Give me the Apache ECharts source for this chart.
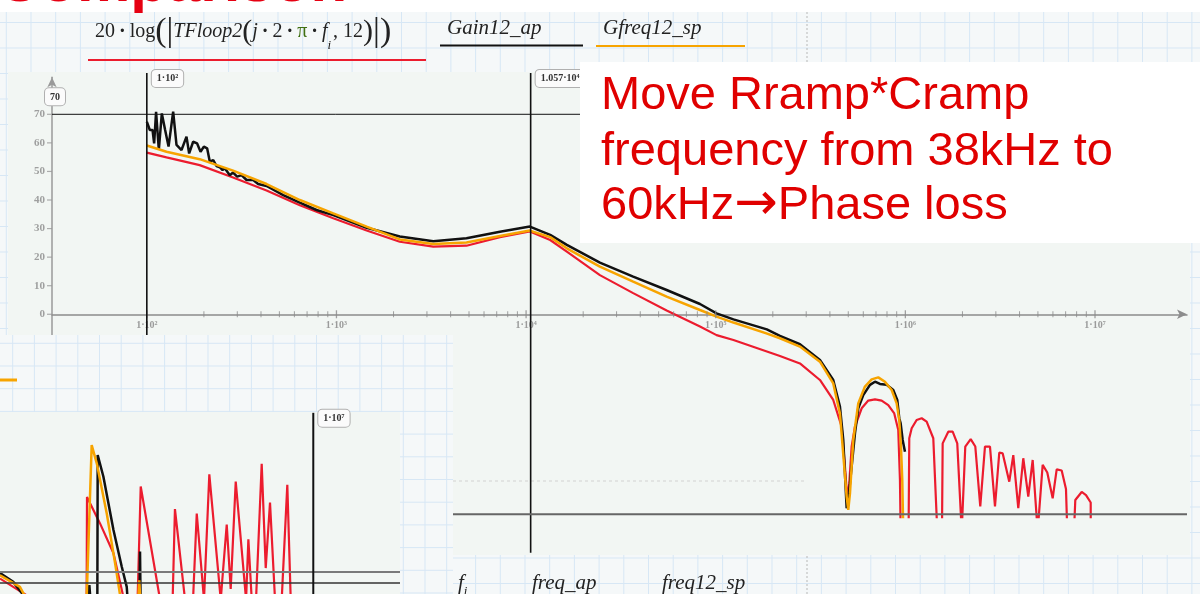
<!DOCTYPE html>
<html>
<head>
<meta charset="utf-8">
<title>Loop gain comparison</title>
<script src="https://cdn.jsdelivr.net/npm/echarts@6/dist/echarts.min.js"></script>
<style>
  html, body { margin: 0; padding: 0; background: #f5f8f9; }
  #chart { width: 1200px; height: 594px; }
</style>
</head>
<body>
<div id="chart"></div>
<script>
// ---- Gain traces: [frequency (Hz), gain (dB)] ----
// 20·log(|TFloop2(j·2·π·f_i, 12)|)
const tfloopTrace = [
  [100,56.6],[127,54.9],[190,52.2],[285,47.9],[428,43.3],[641,38.2],[962,33.6],[1443,29.3],[2158,25.4],
  [3240,23.7],[4850,24.0],[7280,27.0],[10470,29.0],[13400,26.0],[16400,21.9],[24500,13.7],[36700,7.4],
  [55100,1.3],[82600,-4.3],[101000,-7.3],[124000,-9.0],[218100,-14.6],[278000,-17.2],[354400,-23.0],
  [416600,-30.0],[461400,-39.3],[480300,-53.3],[490300,-61.5],[496300,-63.8],[506000,-59.2],[521000,-46.3],
  [542300,-39.3],[588300,-32.9],[637400,-30.2],[691500,-29.8],[749900,-30.2],[812500,-31.8],[873900,-34.7],
  [917400,-40.5],[936400,-58.0],[944400,-76],[1040000,-76],[1048600,-43.4],[1079700,-39.9],[1146800,-37.0],
  [1219000,-36.4],[1295000,-37.6],[1403600,-43.4],[1473500,-76],[1560000,-76],[1573000,-45.2],[1684000,-41.1],
  [1776000,-41.1],[1878000,-45.2],[1982000,-76],[2070000,-46.3],[2211000,-43.7],[2338000,-46.3],[2483000,-67.3],
  [2629000,-46.3],[2794000,-46.3],[2969000,-67.3],[3128000,-48.4],[3261000,-48.7],[3532000,-58.6],[3708000,-49.3],
  [3940000,-67.9],[4186000,-50.4],[4448000,-63.8],[4692000,-51.0],[4985000,-76],[5297000,-52.7],[5602000,-55.4],
  [5982000,-64.4],[6281000,-54.3],[6673000,-54.7],[7031000,-61.2],[7143000,-76],[7749000,-76],[7873000,-65.0],
  [8508000,-62.2],[8965000,-63.3],[9491000,-65.9],[9500000,-76]
];
// Gain12_ap (measured, AP)
const gainApTrace = [
  [100,67.4],[103.7,64.5],[107.2,64.5],[109.3,59.8],[111.9,70.9],[115.7,57.5],[120.0,70.3],[124.9,64.5],
  [130.2,58.7],[133.4,58.7],[137.7,70.9],[143.4,59.3],[152.4,57.5],[161.9,62.2],[167.2,56.3],[175.5,60.4],
  [184.2,59.8],[192.0,56.9],[199.9,58.7],[208.0,58.1],[214.9,53.4],[224,54.0],[233,51.9],[243,51.4],
  [250.8,50.5],[257.8,51.1],[274,48.7],[285,49.6],[299.5,48.2],[315.9,48.7],[335.7,47.0],[364,47.0],
  [386.4,45.6],[428,44.9],[524,41.7],[641,39.1],[785,36.5],[962,34.7],[1443,30.3],[2158,27.2],[3240,25.6],
  [4850,26.6],[7280,28.9],[10470,30.7],[13400,27.8],[16400,24.3],[24500,18.1],[36700,13.2],[55100,8.5],
  [82600,3.6],[101000,0.3],[124000,-1.8],[186000,-5.3],[218100,-7.6],[278000,-10.5],[354400,-16.0],
  [416600,-23.0],[451900,-32.3],[470500,-44.0],[482000,-58.0],[490300,-67.9],[500000,-65.0],[521000,-53.3],
  [542300,-41.7],[564500,-32.9],[599800,-28.3],[650700,-24.7],[691500,-23.6],[734500,-24.4],[796700,-24.7],
  [863300,-26.5],[906400,-30.0],[928600,-36.4],[944400,-38.2],[967800,-44.0],[995200,-48.1]
];
// Gfreq12_sp (simulated, SP)
const gfreqSpTrace = [
  [100,59.1],[127,56.9],[190,54.3],[285,50.3],[428,45.6],[641,40.0],[962,35.3],[1443,30.7],[2158,26.2],
  [3240,24.6],[4850,25.1],[7280,27.4],[10470,29.3],[13400,27.0],[16400,23.1],[24500,16.7],[36700,11.4],
  [55100,6.2],[82600,1.5],[101000,-0.8],[124000,-2.9],[185000,-6.7],[218100,-8.4],[278000,-11.3],
  [354400,-16.6],[416600,-24.2],[451900,-34.7],[474600,-52.2],[490300,-63.8],[500000,-68.5],[510400,-62.7],
  [531300,-44.0],[564500,-31.2],[612300,-25.3],[664200,-22.8],[719600,-22.1],[780500,-23.6],[846700,-26.5],
  [899800,-31.2],[928600,-37.0],[948000,-46.3],[963100,-58.0],[974900,-76]
];

// ---- Close-up of the tail near -70 dB (lower-left view) ----
const zoomTfloopTrace = [
  [794300,-69.2],[1040000,-73],[1600000,-73],[1605000,-54.4],[1783000,-59.2],[1988000,-64.6],[2164000,-73],
  [2416000,-73],[2478000,-52.5],[2897000,-73],[3208000,-73],[3268000,-56.6],[3545000,-73],[3783000,-73],
  [3898000,-57.4],[4133000,-73],[4315000,-50.3],[4732000,-73],[4967000,-59.4],[5129000,-71.1],[5342000,-51.6],
  [5808000,-73],[5917000,-62.1],[6080000,-73],[6295000,-73],[6590000,-48.4],[6808000,-67.3],[7048000,-55.4],
  [7339000,-73],[7747000,-73],[8106000,-52.2],[8333000,-73]
];
const zoomGainApTrace = [
  [794300,-68.2],[884000,-69.8],[986000,-73],[1620000,-73],[1636000,-70.4],[1650000,-73],[1745000,-73],
  [1750000,-46.8],[1832000,-50.7],[1988000,-60.4],[2125000,-67.0],[2213000,-70.7],[2229000,-73],
  [2455000,-73],[2464000,-64.3],[2475000,-73]
];
const zoomGfreqSpTrace = [
  [794300,-68.6],[933000,-70.7],[986000,-73],[1600000,-73],[1667000,-45.0],[1737000,-48.3],[1883000,-57.4],
  [2014000,-66.4],[2109000,-73],[2430000,-73],[2449000,-69.5],[2470000,-73]
];

// ---- Axes, ticks and markers ----
const decadeTicks = [1e2, 1e3, 1e4, 1e5, 1e6, 1e7];
const decadeLabels = ['1·10²', '1·10³', '1·10⁴', '1·10⁵', '1·10⁶', '1·10⁷'];
const gainTicks = [0, 10, 20, 30, 40, 50, 60, 70];
const gainTickLabels = ['0', '10', '20', '30', '40', '50', '60', '70'];

const freqMarkers = [100, 10570];
const freqMarkerLabels = ['1·10²', '1.057·10⁴'];
const gainMarkers = [70, -70];
const gainMarkerLabels = ['70', '-70'];
const zoomFreqMarkers = [1e7];
const zoomFreqMarkerLabels = ['1·10⁷'];
const zoomGainMarkers = [-68, -70];

const FREQ_MIN = Math.pow(10, 1.5), FREQ_MAX = 3.056e7;
const GAIN_MIN = -71, GAIN_MAX = 83;
const MARK_TOP = 84.5, MARK_BOTTOM = -83.5;
const ZOOM_FMIN = Math.pow(10, 5.9), ZOOM_FMAX = Math.pow(10, 7.3045);
const ZOOM_GMIN = -72, ZOOM_GMAX = -39;

const RED = '#ec1c2e', BLACK = '#111111', ORANGE = '#f7a400';
const SHEET = '#f5f8f9', SHEET_LINE = '#d7e7f5', PANEL = '#f2f6f3';
const SERIF = '"Liberation Serif", "DejaVu Serif", serif';
const SANS = '"Liberation Sans", Arial, sans-serif';

const markerLabelStyle = {
  font: 'bold 10px ' + SERIF, fill: '#333', backgroundColor: '#fbfbfb',
  borderColor: '#b0b0b0', borderWidth: 1, borderRadius: 4, padding: [4, 5, 3, 5]
};

// minor ticks at 2..9 within each decade
const minorTicks = [];
for (let d = 0; d < decadeTicks.length - 1; d++) {
  for (let k = 2; k <= 9; k++) minorTicks.push(decadeTicks[d] * k);
}

function verticalMarkers(labels, yTop, yBottom, width) {
  return function (params, api) {
    const f = api.value(0);
    const p1 = api.coord([f, yTop]);
    const p2 = api.coord([f, yBottom]);
    return {
      type: 'group',
      children: [
        { type: 'line', shape: { x1: p1[0], y1: p1[1], x2: p2[0], y2: p2[1] },
          style: { stroke: BLACK, lineWidth: width } },
        { type: 'text', x: p1[0] + 5, y: p1[1] - 3,
          style: Object.assign({ text: labels[params.dataIndex], align: 'left', verticalAlign: 'top' }, markerLabelStyle) }
      ]
    };
  };
}

function horizontalMarkers(labels, fMin, fMax, styles) {
  return function (params, api) {
    const g = api.value(1);
    const p1 = api.coord([fMin, g]);
    const p2 = api.coord([fMax, g]);
    const st = styles[params.dataIndex];
    const children = [
      { type: 'line', shape: { x1: p1[0], y1: p1[1], x2: p2[0], y2: p2[1] },
        style: { stroke: st.color, lineWidth: st.width } }
    ];
    if (labels) {
      children.push({ type: 'text', x: p1[0] + 3, y: p1[1] - 9,
        style: Object.assign({ text: labels[params.dataIndex], align: 'center', verticalAlign: 'bottom' }, markerLabelStyle) });
    }
    return { type: 'group', children: children };
  };
}

// ---- Worksheet background: ruled grid, plot panels, headings ----
const graphics = [];
function ruled(x0, y0, x1, y1, sx, ox, sy, oy, z) {
  for (let x = ox; x <= x1; x += sx) {
    if (x >= x0) graphics.push({ type: 'line', z: z, silent: true,
      shape: { x1: x, y1: y0, x2: x, y2: y1 }, style: { stroke: SHEET_LINE, lineWidth: 1 } });
  }
  for (let y = oy; y <= y1; y += sy) {
    if (y >= y0) graphics.push({ type: 'line', z: z, silent: true,
      shape: { x1: x0, y1: y, x2: x1, y2: y }, style: { stroke: SHEET_LINE, lineWidth: 1 } });
  }
}
ruled(0, 0, 1200, 594, 24.7, 6.3, 25.5, 22.5, 0);

const DOT = '{d|\u2009·\u2009}';
graphics.push(
  { type: 'line', z: 0, shape: { x1: 807, y1: 0, x2: 807, y2: 594 },
    style: { stroke: '#b8b8b8', lineWidth: 1, lineDash: [2, 2] } },
  { type: 'rect', z: 1, shape: { x: 8, y: 72, width: 1182, height: 483 }, style: { fill: PANEL } },
  { type: 'rect', z: 1, shape: { x: 0, y: 0, width: 1200, height: 12 }, style: { fill: '#ffffff' } },
  { type: 'line', z: 2, shape: { x1: 453, y1: 481, x2: 807, y2: 481 },
    style: { stroke: '#d2d2d2', lineWidth: 1, lineDash: [3, 3] } },
  // trace legend
  { type: 'text', x: 95, y: 12, z: 5, style: {
      text: '{n|20}' + DOT + '{n|log}{bp|(}{bar||}{it|TFloop2}{mp|(}{it|j}' + DOT + '{n|2}' + DOT + '{pi|π}' + DOT +
            '{it|f}{sub|i}{n|, 12}{mp|)}{bar||}{bp|)}',
      verticalAlign: 'top', align: 'left',
      rich: {
        n: { font: '20px ' + SERIF, fill: '#222', lineHeight: 40 },
        d: { font: 'bold 20px ' + SERIF, fill: '#222', lineHeight: 40 },
        it: { font: 'italic 20px ' + SERIF, fill: '#222', lineHeight: 40 },
        pi: { font: '20px ' + SERIF, fill: '#3f6f12', lineHeight: 40 },
        bp: { font: '34px ' + SERIF, fill: '#222', lineHeight: 40 },
        mp: { font: '30px ' + SERIF, fill: '#222', lineHeight: 40 },
        bar: { font: '34px ' + SERIF, fill: '#222', lineHeight: 40 },
        sub: { font: 'italic 13px ' + SERIF, fill: '#222', lineHeight: 40, padding: [28, 2, 0, 0] }
      } } },
  { type: 'line', z: 5, shape: { x1: 88, y1: 60, x2: 426, y2: 60 }, style: { stroke: RED, lineWidth: 2 } },
  { type: 'text', x: 447, y: 28, z: 5, style: { text: 'Gain12_ap', font: 'italic 21px ' + SERIF, fill: '#222', verticalAlign: 'middle' } },
  { type: 'line', z: 5, shape: { x1: 440, y1: 45.5, x2: 583, y2: 45.5 }, style: { stroke: BLACK, lineWidth: 2 } },
  { type: 'text', x: 603, y: 28, z: 5, style: { text: 'Gfreq12_sp', font: 'italic 21px ' + SERIF, fill: '#222', verticalAlign: 'middle' } },
  { type: 'line', z: 5, shape: { x1: 596, y1: 46, x2: 745, y2: 46 }, style: { stroke: ORANGE, lineWidth: 2 } },
  // frequency legend
  { type: 'text', x: 458, y: 583, z: 5, style: {
      text: '{it|f}{sub|i}', verticalAlign: 'middle',
      rich: { it: { font: 'italic 21px ' + SERIF, fill: '#222', lineHeight: 24 },
              sub: { font: 'italic 13px ' + SERIF, fill: '#222', lineHeight: 24, padding: [18, 0, 0, 0] } } } },
  { type: 'text', x: 532, y: 583, z: 5, style: { text: 'freq_ap', font: 'italic 21px ' + SERIF, fill: '#222', verticalAlign: 'middle' } },
  { type: 'text', x: 662, y: 583, z: 5, style: { text: 'freq12_sp', font: 'italic 21px ' + SERIF, fill: '#222', verticalAlign: 'middle' } },
  // close-up view frame
  { type: 'rect', z: 10, shape: { x: 0, y: 335, width: 453, height: 259 }, style: { fill: SHEET } }
);
ruled(0, 335, 453, 594, 21.7, 12.7, 22.7, 343.3, 11);
graphics.push(
  { type: 'rect', z: 12, shape: { x: 0, y: 412, width: 400, height: 182 }, style: { fill: PANEL } },
  { type: 'line', z: 12, shape: { x1: 0, y1: 380, x2: 17, y2: 380 }, style: { stroke: ORANGE, lineWidth: 3 } },
  // annotation box
  { type: 'rect', z: 20, shape: { x: 580, y: 62, width: 620, height: 181 }, style: { fill: '#ffffff' } },
  { type: 'text', x: 601, y: 95.7, z: 21, style: { text: 'Move Rramp*Cramp', font: '47px ' + SANS, fill: '#e00000', verticalAlign: 'middle' } },
  { type: 'text', x: 601, y: 151.7, z: 21, style: { text: 'frequency from 38kHz to', font: '47px ' + SANS, fill: '#e00000', verticalAlign: 'middle' } },
  { type: 'text', x: 601, y: 205.7, z: 21, style: {
      text: '{t|60kHz}{a|\u2192}{t|Phase loss}', verticalAlign: 'middle',
      rich: { t: { font: '47px ' + SANS, fill: '#e00000', lineHeight: 56 },
              a: { font: '52px "DejaVu Sans", sans-serif', fill: '#e00000', lineHeight: 56 } } } },
  { type: 'text', x: -3, y: -15.5, z: 21, style: { text: 'Comparison', font: 'bold 60px ' + SANS, fill: '#e60012', verticalAlign: 'middle' } }
);

// ---- Tick marks drawn on the scales ----
const xTickData = decadeTicks.map((f, i) => ({
  value: [f, 0], symbolSize: [1.3, 8],
  label: { show: true, formatter: decadeLabels[i] }
})).concat(minorTicks.map(f => ({ value: [f, 0], label: { show: false } })));

const yTickData = gainTicks.map((g, i) => ({
  value: [FREQ_MIN, g], label: { show: true, formatter: gainTickLabels[i] }
}));

const lineBase = { type: 'line', symbol: 'none', smooth: false, silent: true, clip: true };

const option = {
  animation: false,
  backgroundColor: SHEET,
  grid: [
    { left: 52, right: 13, top: 77.17, bottom: 76.9 },
    { left: 0, right: 800, top: 412, bottom: 0 }
  ],
  xAxis: [
    { type: 'log', logBase: 10, gridIndex: 0, min: FREQ_MIN, max: FREQ_MAX, z: 3,
      axisLine: { onZero: true, symbol: ['none', 'arrow'], symbolSize: [7, 10], lineStyle: { color: '#8c8c8c', width: 1.5 } },
      axisTick: { show: false }, axisLabel: { show: false }, splitLine: { show: false } },
    { type: 'log', logBase: 10, gridIndex: 1, min: ZOOM_FMIN, max: ZOOM_FMAX, show: false }
  ],
  yAxis: [
    { type: 'value', gridIndex: 0, min: GAIN_MIN, max: GAIN_MAX, z: 3,
      axisLine: { show: true, onZero: false, symbol: ['none', 'arrow'], symbolSize: [7, 10], lineStyle: { color: '#9a9a9a', width: 1.5 } },
      axisTick: { show: false }, axisLabel: { show: false }, splitLine: { show: false } },
    { type: 'value', gridIndex: 1, min: ZOOM_GMIN, max: ZOOM_GMAX, show: false }
  ],
  series: [
    Object.assign({}, lineBase, { name: '20·log(|TFloop2|)', data: tfloopTrace, z: 4, lineStyle: { color: RED, width: 2.2 } }),
    Object.assign({}, lineBase, { name: 'Gain12_ap', data: gainApTrace, z: 4, lineStyle: { color: BLACK, width: 2.5 } }),
    Object.assign({}, lineBase, { name: 'Gfreq12_sp', data: gfreqSpTrace, z: 4, lineStyle: { color: ORANGE, width: 2.5 } }),
    { type: 'scatter', silent: true, z: 4, symbol: 'rect', symbolSize: [1, 6],
      itemStyle: { color: '#8a8a8a' }, data: xTickData,
      label: { position: 'bottom', distance: 2, color: '#858585', fontFamily: SERIF, fontSize: 10, fontWeight: 'bold' } },
    { type: 'scatter', silent: true, z: 4, symbol: 'rect', symbolSize: [5, 1.2], symbolOffset: [-2.5, 0],
      itemStyle: { color: '#9a9a9a' }, data: yTickData,
      label: { position: 'left', distance: 2, color: '#8a8a8a', fontFamily: SERIF, fontSize: 11, fontWeight: 'bold' } },
    { type: 'custom', silent: true, z: 5, data: freqMarkers.map(f => [f, 0]),
      renderItem: verticalMarkers(freqMarkerLabels, MARK_TOP, MARK_BOTTOM, 1.6) },
    { type: 'custom', silent: true, z: 5, data: gainMarkers.map(g => [FREQ_MIN, g]),
      renderItem: horizontalMarkers(gainMarkerLabels, FREQ_MIN, FREQ_MAX,
        [{ color: BLACK, width: 1 }, { color: '#666666', width: 2 }]) },
    // close-up view
    Object.assign({}, lineBase, { xAxisIndex: 1, yAxisIndex: 1, data: zoomTfloopTrace, z: 13, lineStyle: { color: RED, width: 2.2 } }),
    Object.assign({}, lineBase, { xAxisIndex: 1, yAxisIndex: 1, data: zoomGainApTrace, z: 13, lineStyle: { color: BLACK, width: 2.5 } }),
    Object.assign({}, lineBase, { xAxisIndex: 1, yAxisIndex: 1, data: zoomGfreqSpTrace, z: 13, lineStyle: { color: ORANGE, width: 2.5 } }),
    { type: 'custom', silent: true, z: 14, xAxisIndex: 1, yAxisIndex: 1, data: zoomGainMarkers.map(g => [ZOOM_FMIN, g]),
      renderItem: horizontalMarkers(null, ZOOM_FMIN, ZOOM_FMAX,
        [{ color: '#7a7a7a', width: 2 }, { color: '#333333', width: 1.5 }]) },
    { type: 'custom', silent: true, z: 14, xAxisIndex: 1, yAxisIndex: 1, data: zoomFreqMarkers.map(f => [f, ZOOM_GMAX]),
      renderItem: verticalMarkers(zoomFreqMarkerLabels, ZOOM_GMAX - 0.15, ZOOM_GMIN - 2, 2) }
  ],
  graphic: { elements: graphics }
};

const chart = echarts.init(document.getElementById('chart'), null, { renderer: 'canvas' });
chart.setOption(option);
</script>
</body>
</html>
